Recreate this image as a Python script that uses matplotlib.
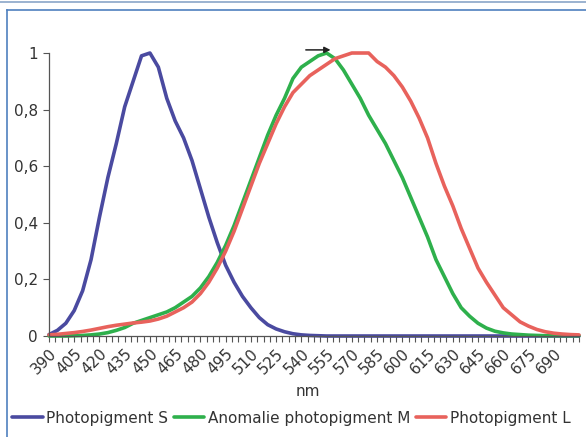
import numpy as np
import matplotlib
matplotlib.use("Agg")
from matplotlib import pyplot as plt
from matplotlib.lines import Line2D

# wavelengths (nm), 5 nm steps
wavelengths = np.arange(390, 706, 5)

photopigment_s = [
    0.005, 0.02, 0.045, 0.09, 0.16, 0.27, 0.42, 0.56, 0.68, 0.81,
    0.90, 0.99, 1.0, 0.95, 0.84, 0.76, 0.70, 0.62, 0.52, 0.42,
    0.33, 0.25, 0.19, 0.14, 0.10, 0.065, 0.04, 0.025, 0.015, 0.008,
    0.004, 0.002, 0.001, 0, 0, 0, 0, 0, 0, 0,
    0, 0, 0, 0, 0, 0, 0, 0, 0, 0,
    0, 0, 0, 0, 0, 0, 0, 0, 0, 0,
    0, 0, 0, 0,
]

anomalie_m = [
    0, 0, 0, 0.001, 0.002, 0.004, 0.007, 0.012, 0.02, 0.03,
    0.045, 0.055, 0.065, 0.075, 0.085, 0.10, 0.12, 0.14, 0.17, 0.21,
    0.26, 0.32, 0.39, 0.47, 0.55, 0.63, 0.71, 0.78, 0.84, 0.91,
    0.95, 0.97, 0.99, 1.0, 0.98, 0.94, 0.89, 0.84, 0.78, 0.73,
    0.68, 0.62, 0.56, 0.49, 0.42, 0.35, 0.27, 0.21, 0.15, 0.10,
    0.07, 0.045, 0.028, 0.017, 0.011, 0.007, 0.005, 0.003, 0.002, 0.001,
    0.001, 0.001, 0.001, 0.001,
]

photopigment_l = [
    0.004, 0.006, 0.009, 0.012, 0.016, 0.021, 0.027, 0.033, 0.038, 0.042,
    0.046, 0.049, 0.053, 0.06, 0.07, 0.085, 0.10, 0.12, 0.15, 0.19,
    0.24, 0.30, 0.37, 0.45, 0.53, 0.61, 0.68, 0.75, 0.81, 0.86,
    0.89, 0.92, 0.94, 0.96, 0.98, 0.99, 1.0, 1.0, 1.0, 0.97,
    0.95, 0.92, 0.88, 0.83, 0.77, 0.70, 0.61, 0.53, 0.46, 0.38,
    0.31, 0.24, 0.19, 0.145, 0.10, 0.075, 0.05, 0.035, 0.023, 0.015,
    0.01, 0.007, 0.005, 0.004,
]

labels = ["Photopigment S", "Anomalie photopigment M", "Photopigment L"]
colors = ["#4a4aa0", "#2eb04c", "#e8625c"]

tick_labels = list(range(390, 691, 15))

fig = plt.figure(figsize=(5.86, 4.37), dpi=100)
ax = fig.add_axes([0.0836, 0.2311, 0.9044, 0.6476])

for series, label, color in zip([photopigment_s, anomalie_m, photopigment_l], labels, colors):
    ax.plot(wavelengths, series, color=color, lw=2.6, label=label,
            solid_joinstyle="round", solid_capstyle="round", clip_on=False)

ax.set_xlim(390, 705)
ax.set_ylim(0, 1)

# tick marks every 3.75 nm, labels every 15 nm
minor = np.arange(390, 705.1, 3.75)
ax.set_xticks(minor)
ax.set_xticklabels([str(int(round(t))) if int(round(t)) in tick_labels and abs(t - round(t)) < 1e-6 else ""
                    for t in minor],
                   rotation=45, ha="right", rotation_mode="anchor", fontsize=11, color="#333333")
ax.tick_params(axis="x", length=4, width=0.8, color="#555555", pad=3)

ax.set_yticks([0, 0.2, 0.4, 0.6, 0.8, 1])
ax.set_yticklabels(["0", "0,2", "0,4", "0,6", "0,8", "1"], fontsize=11, color="#333333")
ax.tick_params(axis="y", length=4, width=0.8, color="#555555", pad=4)

for side in ["top", "right"]:
    ax.spines[side].set_visible(False)
for side in ["left", "bottom"]:
    ax.spines[side].set_color("#555555")
    ax.spines[side].set_linewidth(0.9)

# arrow above the shifted M peak
ax.annotate("", xy=(559, 1.011), xytext=(541, 1.011),
            arrowprops=dict(arrowstyle="-|>", color="#222222", lw=1.1, mutation_scale=9),
            annotation_clip=False)

fig.text(308 / 586, 1 - 392 / 437, "nm", ha="center", va="center", fontsize=11, color="#333333")

fig.legend(loc="center left", bbox_to_anchor=(12 / 586, 1 - 418 / 437), ncol=3, frameon=False,
           fontsize=11, handlelength=2.0, handletextpad=0.25, columnspacing=0.35,
           borderpad=0, borderaxespad=0, labelcolor="#333333")

# page frame lines
blue = "#4f80bf"
fig.add_artist(Line2D([0, 1], [1 - 1.5 / 437, 1 - 1.5 / 437], color="#8aa6c8", lw=1.2, transform=fig.transFigure))
fig.add_artist(Line2D([7 / 586, 1], [1 - 9.5 / 437, 1 - 9.5 / 437], color=blue, lw=1.2, transform=fig.transFigure))
fig.add_artist(Line2D([7 / 586, 7 / 586], [0, 1 - 9.5 / 437], color=blue, lw=1.2, transform=fig.transFigure))

fig.savefig("out.png", dpi=100)
